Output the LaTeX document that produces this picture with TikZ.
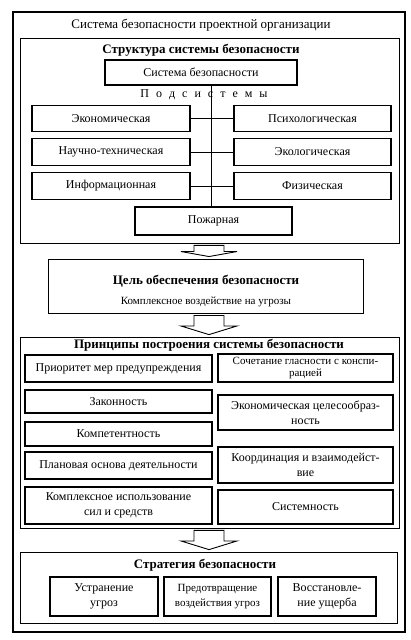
\documentclass[tikz,border=0pt]{standalone}
\usepackage{fontspec}
\setmainfont{Liberation Serif}
\usetikzlibrary{positioning, calc}

\begin{document}
\begin{tikzpicture}[x=1pt, y=-1pt,
    frame/.style={draw=black, line width=0.8pt, inner sep=0pt},
    box/.style={draw=black, line width=1.3pt, inner sep=1pt, align=center,
                font=\fontsize{12}{15}\selectfont},
    head/.style={font=\bfseries\fontsize{13}{15}\selectfont},
    blockarrow/.style={draw=black, line width=0.9pt, fill=white, line join=miter}
  ]
  \useasboundingbox (0,0) rectangle (410,640);

  % --- outer frame ---
  \node[frame, line width=1.3pt, minimum width=392, minimum height=620] (outer) at (209,322) {};
  \node[font=\fontsize{13}{15}\selectfont] (title) at (201,25)
       {Система безопасности проектной организации};

  % --- structure of the system ---
  \node[frame, minimum width=379, minimum height=205] (struct) at (209.5,140.5) {};
  \node[head] (structT) at (201,50) {Структура системы безопасности};
  \node[box, minimum width=192, minimum height=25] (sys) at (201,72.5) {Система безопасности};
  \node[font=\fontsize{12}{14}\selectfont] (sub) at (204,95)
       {П\hspace{7pt}о\hspace{7pt}д\hspace{7pt}с\hspace{7pt}и\hspace{7pt}с\hspace{7pt}т\hspace{7pt}е\hspace{7pt}м\hspace{7pt}ы};

  % subsystems
  \foreach \n/\y/\lab in {econ/118.5/Экономическая, sci/152/Научно-техническая, info/186/Информационная} {
      \node[box, minimum width=158, minimum height=26.5] (\n) at (111,\y) {\lab};
  }
  \foreach \n/\y/\lab in {psy/118.5/Психологическая, eco/152/Экологическая, phys/186/Физическая} {
      \node[box, minimum width=157, minimum height=26.5] (\n) at (312.5,\y) {\lab};
  }
  \node[box, minimum width=157, minimum height=28] (fire) at (213.5,221) {Пожарная};

  \coordinate (spine) at (211,0);
  \draw[line width=0.6pt] (sys.south -| spine) -- (fire.north -| spine);
  \foreach \l/\r in {econ/psy, sci/eco, info/phys} {
      \draw[line width=0.6pt] (\l.east) -- (\r.west);
  }

  % --- goal ---
  \node[frame, line width=0.9pt, minimum width=315, minimum height=54] (goal) at (205.5,286) {};
  \node[head] (goalT) at (206,281) {Цель обеспечения безопасности};
  \node[font=\fontsize{11}{13}\selectfont] (goalS) at (206,302) {Комплексное воздействие на угрозы};

  % --- principles ---
  \node[frame, minimum width=379, minimum height=191] (princ) at (209.5,432.5) {};
  \node[head] (princT) at (209,345) {Принципы построения системы безопасности};
  \node[box, minimum width=187, minimum height=27] (p1) at (118.5,368.5) {Приоритет мер предупреждения};
  \node[box, minimum width=187, minimum height=23] (p2) at (118.5,401.5) {Законность};
  \node[box, minimum width=187, minimum height=24] (p3) at (118.5,434) {Компетентность};
  \node[box, minimum width=187, minimum height=27] (p4) at (118.5,465.5) {Плановая основа деятельности};
  \node[box, minimum width=187, minimum height=37] (p5) at (118.5,505.5) {Комплексное использование\\сил и средств};
  \node[box, minimum width=175, minimum height=28, font=\fontsize{11}{12}\selectfont] (p6) at (305.5,368)
       {Сочетание гласности с конспи-\\рацией};
  \node[box, minimum width=175, minimum height=35] (p7) at (305.5,412.5) {Экономическая целесообраз-\\ность};
  \node[box, minimum width=175, minimum height=36] (p8) at (305.5,465) {Координация и взаимодейст-\\вие};
  \node[box, minimum width=175, minimum height=34] (p9) at (305.5,507) {Системность};

  % --- strategy ---
  \node[frame, minimum width=377, minimum height=71] (strat) at (208.5,587.5) {};
  \node[head] (stratT) at (205,565) {Стратегия безопасности};
  \node[box, minimum width=108, minimum height=39] (s1) at (104,596.5) {Устранение\\угроз};
  \node[box, minimum width=107, minimum height=39, font=\fontsize{11}{15}\selectfont] (s2) at (217.5,596.5)
       {Предотвращение\\воздействия угроз};
  \node[box, minimum width=98, minimum height=39] (s3) at (327,596.5) {Восстановле-\\ние ущерба};

  % --- block arrows between the parts ---
  \foreach \a/\b in {struct/goal, goal/princ, princ/strat} {
      \coordinate (t) at ($(\a.south -| outer.north)+(0,2)$);
      \coordinate (h) at ($(\b.north -| outer.north)+(0,-2)$);
      \draw[blockarrow] ($(t)+(-15,0)$) -- ($(t)!0.55!(h)+(-15,0)$) -- ($(t)!0.55!(h)+(-28,0)$)
            -- (h) -- ($(t)!0.55!(h)+(28,0)$) -- ($(t)!0.55!(h)+(15,0)$) -- ($(t)+(15,0)$) -- cycle;
  }
\end{tikzpicture}
\end{document}
